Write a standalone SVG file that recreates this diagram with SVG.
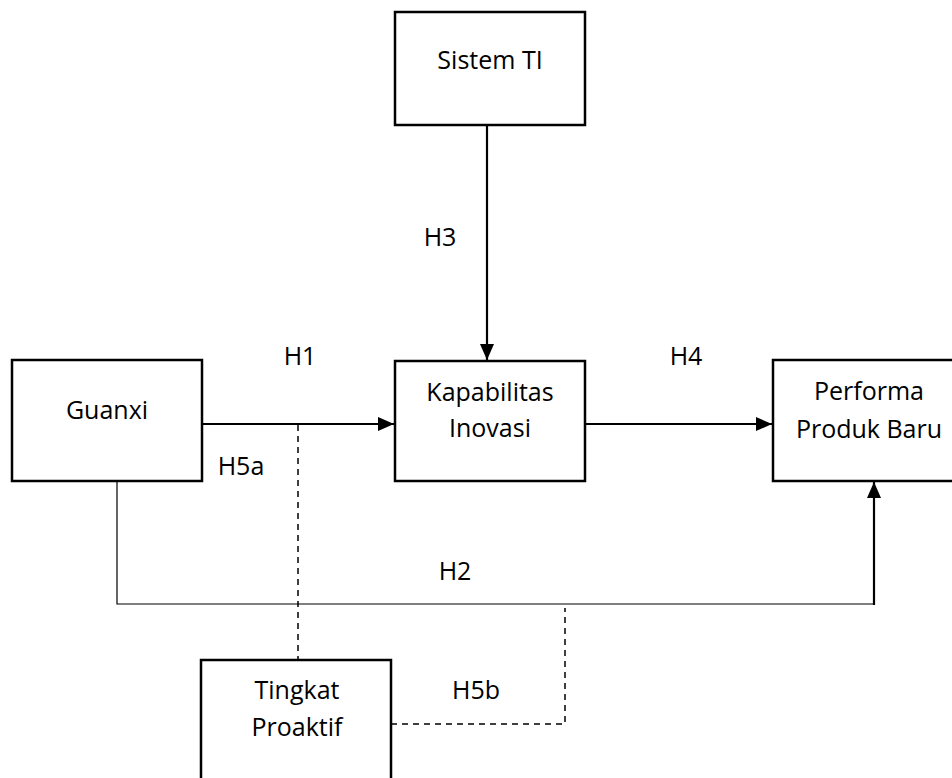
<svg xmlns="http://www.w3.org/2000/svg" width="952" height="778" viewBox="0 0 952 778">
<style>
.box{fill:#fff;stroke:#000;stroke-width:2.5}
.t{font-family:"Open Sans","Liberation Sans",sans-serif;font-size:25px;fill:#000;text-anchor:middle}
.c{fill:none;stroke:#000;stroke-width:2.2}
.thin{fill:none;stroke:#000;stroke-width:1.2}
.d{fill:none;stroke:#000;stroke-width:1.5;stroke-dasharray:6,5}
</style>
<defs>
<marker id="ah" markerWidth="16" markerHeight="14" refX="16" refY="7" orient="auto" markerUnits="userSpaceOnUse">
<path d="M0,0 L16,7 L0,14 Z" fill="#000"/>
</marker>
</defs>
<rect width="952" height="778" fill="#fff"/>
<g id="connectors">
<line class="c" x1="487" y1="125" x2="487" y2="360" marker-end="url(#ah)"/>
<line class="c" x1="202" y1="424" x2="394" y2="424" marker-end="url(#ah)"/>
<line class="c" x1="585" y1="424" x2="772" y2="424" marker-end="url(#ah)"/>
<polyline class="thin" points="117,481 117,604 874,604"/>
<line class="c" x1="874" y1="605" x2="874" y2="482" marker-end="url(#ah)"/>
<line class="d" x1="298" y1="425" x2="298" y2="659"/>
<polyline class="d" points="391,724 565,724 565,608"/>
<text class="t" x="440" y="246">H3</text>
<text class="t" x="300" y="365">H1</text>
<text class="t" x="686" y="365">H4</text>
<text class="t" x="241" y="475">H5a</text>
<text class="t" x="455" y="580">H2</text>
<text class="t" x="476" y="699">H5b</text>
</g>
<g id="sistem-ti">
<rect class="box" x="395" y="12" width="190" height="113"/>
<text class="t" x="490" y="69">Sistem TI</text>
</g>
<g id="guanxi">
<rect class="box" x="12" y="360" width="190" height="121"/>
<text class="t" x="107" y="419">Guanxi</text>
</g>
<g id="kapabilitas-inovasi">
<rect class="box" x="395" y="361" width="190" height="120"/>
<text class="t" x="490" y="401">Kapabilitas</text>
<text class="t" x="490" y="437">Inovasi</text>
</g>
<g id="performa-produk-baru">
<rect class="box" x="773" y="360" width="190" height="121"/>
<text class="t" x="869" y="400">Performa</text>
<text class="t" x="869" y="438">Produk Baru</text>
</g>
<g id="tingkat-proaktif">
<rect class="box" x="201" y="660" width="190" height="130"/>
<text class="t" x="297" y="699">Tingkat</text>
<text class="t" x="297" y="736">Proaktif</text>
</g>
</svg>
